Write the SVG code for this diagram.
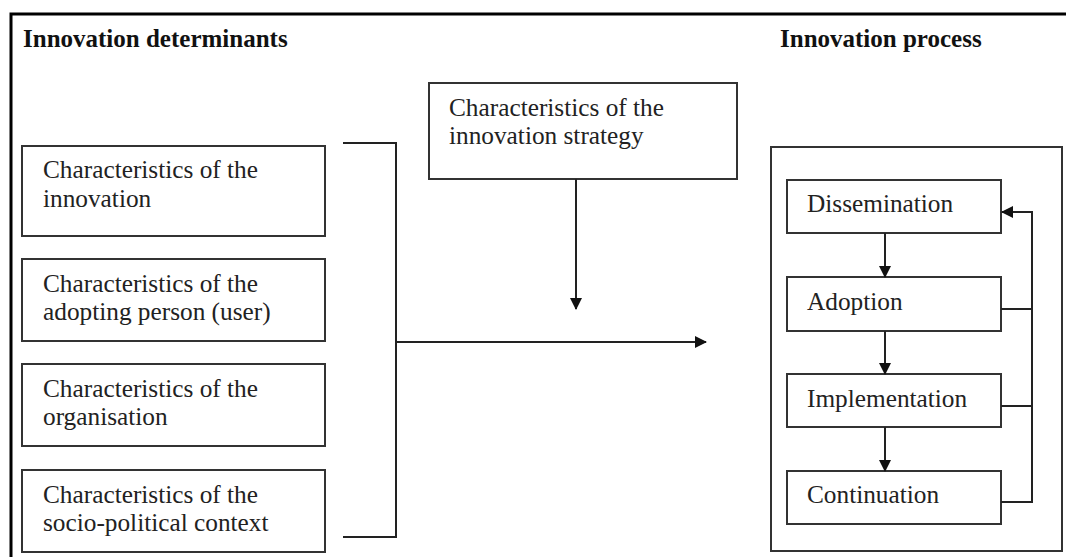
<svg xmlns="http://www.w3.org/2000/svg" width="1066" height="557" viewBox="0 0 1066 557">
<style>
.box{fill:#fff;stroke:#333;stroke-width:2}
.t{font-family:"Liberation Serif","Times New Roman",serif;font-size:25.3px;fill:#222}
.h{font-family:"Liberation Serif","Times New Roman",serif;font-size:25px;font-weight:bold;fill:#111}
.ln{fill:none;stroke:#222;stroke-width:2}
</style>
<defs>
<marker id="ah" markerWidth="12" markerHeight="12" refX="11" refY="6" orient="auto" markerUnits="userSpaceOnUse">
<path d="M0,0 L12,6 L0,12 Z" fill="#111"/>
</marker>
</defs>
<rect width="1066" height="557" fill="#fff"/>
<g id="frame">
<path d="M11,557 L11,14 L1066,14" fill="none" stroke="#000" stroke-width="3"/>
</g>
<g id="title-determinants"><text class="h" x="23" y="47">Innovation determinants</text></g>
<g id="title-process"><text class="h" x="780" y="47">Innovation process</text></g>

<g id="node-innovation">
<rect class="box" x="22" y="146" width="303" height="90"/>
<text class="t" x="43" y="178">Characteristics of the</text>
<text class="t" x="43" y="207">innovation</text>
</g>
<g id="node-user">
<rect class="box" x="22" y="259" width="303" height="82"/>
<text class="t" x="43" y="292">Characteristics of the</text>
<text class="t" x="43" y="320">adopting person (user)</text>
</g>
<g id="node-organisation">
<rect class="box" x="22" y="364" width="303" height="82"/>
<text class="t" x="43" y="397">Characteristics of the</text>
<text class="t" x="43" y="425">organisation</text>
</g>
<g id="node-context">
<rect class="box" x="22" y="470" width="303" height="82"/>
<text class="t" x="43" y="503">Characteristics of the</text>
<text class="t" x="43" y="531">socio-political context</text>
</g>
<g id="node-strategy">
<rect class="box" x="429" y="83" width="308" height="96"/>
<text class="t" x="449" y="116">Characteristics of the</text>
<text class="t" x="449" y="144">innovation strategy</text>
</g>
<g id="node-process">
<rect class="box" x="771" y="147" width="291" height="404"/>
</g>
<g id="node-dissemination">
<rect class="box" x="787" y="180" width="214" height="53"/>
<text class="t" x="807" y="212">Dissemination</text>
</g>
<g id="node-adoption">
<rect class="box" x="787" y="277" width="214" height="54"/>
<text class="t" x="807" y="310">Adoption</text>
</g>
<g id="node-implementation">
<rect class="box" x="787" y="374" width="214" height="53"/>
<text class="t" x="807" y="407">Implementation</text>
</g>
<g id="node-continuation">
<rect class="box" x="787" y="471" width="214" height="53"/>
<text class="t" x="807" y="503">Continuation</text>
</g>

<g id="connectors">
<path class="ln" d="M343,143 L396,143 L396,537 L343,537"/>
<path class="ln" d="M396,342 L706,342" marker-end="url(#ah)"/>
<path class="ln" d="M576,179 L576,309" marker-end="url(#ah)"/>
<path class="ln" d="M885,233 L885,277" marker-end="url(#ah)"/>
<path class="ln" d="M885,331 L885,374" marker-end="url(#ah)"/>
<path class="ln" d="M885,427 L885,471" marker-end="url(#ah)"/>
<path class="ln" d="M1001,309 L1032,309"/>
<path class="ln" d="M1001,406 L1032,406"/>
<path class="ln" d="M1001,502 L1032,502 L1032,212 L1002,212" marker-end="url(#ah)"/>
</g>
</svg>
